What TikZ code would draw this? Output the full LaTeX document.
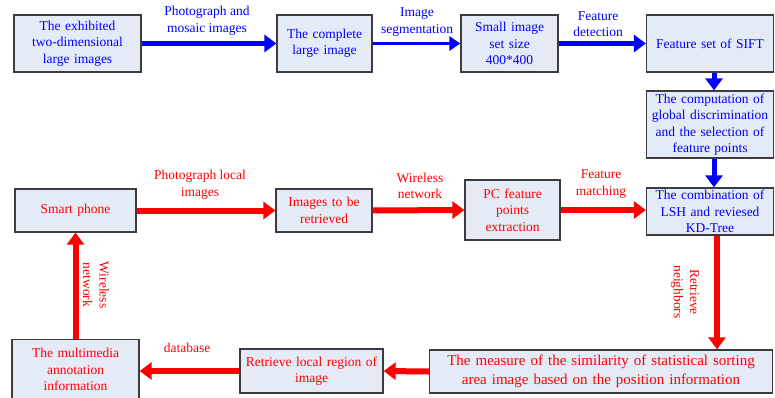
\documentclass[tikz,border=0pt]{standalone}
\usepackage{fontspec}
\setmainfont{Liberation Serif}
\usetikzlibrary{arrows.meta,calc}
\definecolor{boxfill}{RGB}{229,235,246}
\definecolor{boxline}{RGB}{60,60,60}
\definecolor{myblue}{RGB}{0,0,255}
\definecolor{myred}{RGB}{255,0,0}
\begin{document}
\begin{tikzpicture}[x=1pt,y=-1pt,
  box/.style={draw=boxline,line width=1.3pt,fill=boxfill,rectangle,inner sep=0pt,align=center,
    font=\fontsize{13.5}{16.5}\selectfont},
  bt/.style={text=myblue},
  rt/.style={text=myred},
  lbl/.style={align=center,inner sep=0pt,font=\fontsize{13.5}{16.5}\selectfont},
  barrow/.style={draw=myblue,line width=5pt,-{Triangle[length=12pt,width=17pt]}},
  barrowthin/.style={draw=myblue,line width=3.5pt,-{Triangle[length=11pt,width=14pt]}},
  rarrow/.style={draw=myred,line width=6pt,-{Triangle[length=12pt,width=17pt]}},
]
\useasboundingbox (0,0) rectangle (775,398);
% top row (blue)
\node[box,bt,minimum width=127pt,minimum height=57pt,text width=127pt] (b1) at (77.5,43.5) {The exhibited\\two-dimensional\\large images};
\node[box,bt,minimum width=95pt,minimum height=57pt,text width=95pt] (b2) at (324.5,43.5) {The complete\\large image};
\node[box,bt,minimum width=97pt,minimum height=57pt,text width=97pt] (b3) at (509.5,43.5) {Small image\\set size\\400*400};
\node[box,bt,minimum width=127pt,minimum height=57pt,text width=127pt] (b4) at (710,43.5) {Feature set of SIFT};
\node[box,bt,minimum width=127pt,minimum height=67pt,text width=127pt] (b5) at (710,124.5) {The computation of\\global discrimination\\and the selection of\\feature points};
\node[box,bt,minimum width=127pt,minimum height=47pt,text width=127pt] (b6) at (710,211.5) {The combination of\\LSH and reviesed\\KD-Tree};
% middle row (red)
\node[box,rt,minimum width=95pt,minimum height=60pt,text width=95pt] (b7) at (512.5,210) {PC feature\\points\\extraction};
\node[box,rt,minimum width=96pt,minimum height=43pt,text width=96pt] (b8) at (324,210.5) {Images to be\\retrieved};
\node[box,rt,minimum width=121pt,minimum height=43pt,text width=121pt] (b9) at (75.5,210.5) {Smart phone};
% bottom row (red)
\node[box,rt,minimum width=127pt,minimum height=60pt,text width=127pt] (b10) at (75.5,369.5) {The multimedia\\annotation\\information};
\node[box,rt,minimum width=143pt,minimum height=44pt,text width=143pt] (b11) at (311.5,371) {Retrieve local region of\\image};
\node[box,rt,minimum width=343pt,minimum height=43pt,text width=343pt,font=\fontsize{15}{19}\selectfont] (b12) at (601,371.5) {The measure of the similarity of statistical sorting\\area image based on the position information};
% blue arrows
\draw[barrow] (b1.east) -- (b2.west);
\draw[barrowthin] (b2.east) -- (b3.west);
\draw[barrow] (b3.east) -- (b4.west);
\draw[barrow] ($(b4.south)+(4,0)$) -- ($(b5.north)+(4,0)$);
\draw[barrow] ($(b5.south)+(4,0)$) -- ($(b6.north)+(4,0)$);
% red arrows
\draw[rarrow] (b9.east) -- (b8.west);
\draw[rarrow] (b8.east) -- (b7.west);
\draw[rarrow] (b7.east) -- (b6.west |- b7.east);
\draw[rarrow] ($(b6.south)+(7,0)$) -- ($(b6.south |- b12.north)+(7,0)$);
\draw[rarrow] (b12.west) -- (b11.east);
\draw[rarrow] (b11.west) -- (b10.east |- b11.west);
\draw[rarrow] (b10.north) -- (b9.south);
% labels
\node[lbl,text=myblue] (l1) at (207,21) {Photograph and\\mosaic images};
\node[lbl,text=myblue] (l2) at (417,22) {Image\\segmentation};
\node[lbl,text=myblue] (l3) at (598,24) {Feature\\detection};
\node[lbl,text=myred] (l4) at (200,185) {Photograph local\\images};
\node[lbl,text=myred] (l5) at (420,186) {Wireless\\network};
\node[lbl,text=myred] (l6) at (601,184) {Feature\\matching};
\node[lbl,text=myred,rotate=-90] (l7) at (685,292) {Retrieve\\neighbors};
\node[lbl,text=myred,rotate=-90] (l8) at (96,285) {Wireless\\network};
\node[lbl,text=myred] (l9) at (187,348) {database};
\end{tikzpicture}
\end{document}
